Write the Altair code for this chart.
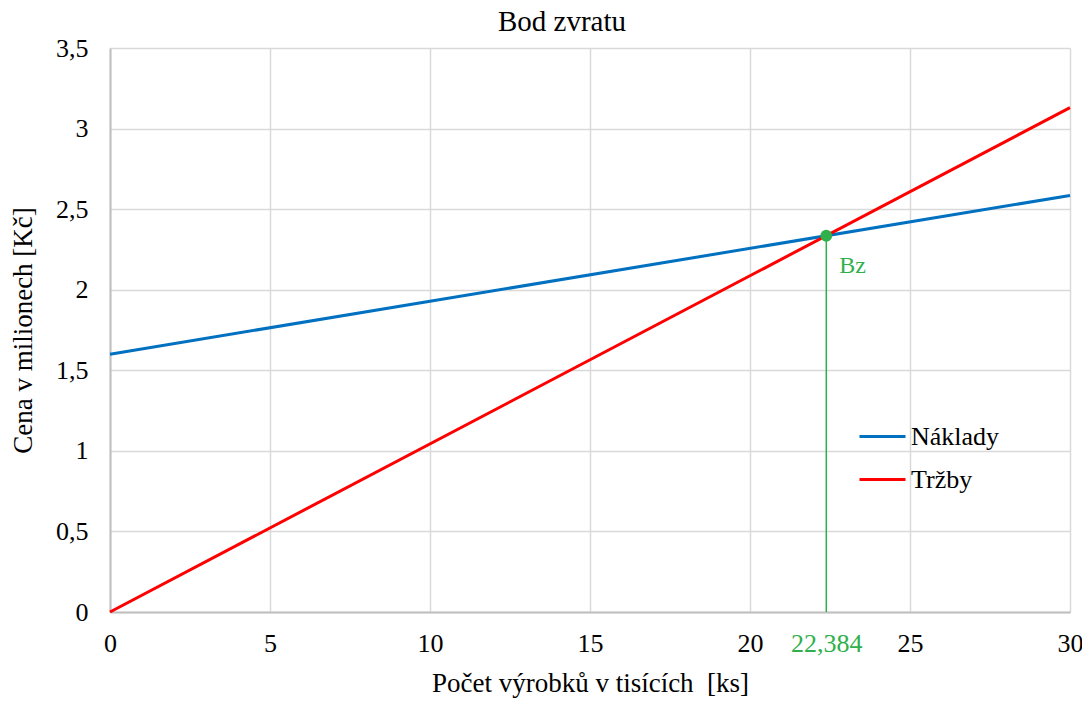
import altair as alt
import pandas as pd

# Data
x_vals = [0, 30]
naklady = [1.6, 2.585]
trzby = [0.0, 3.13]
series_names = ["Náklady", "Tržby"]
series_colors = ["#0070c0", "#ff0000"]

bz_x = [22.384]
bz_y = [2.335]
bz_label = ["Bz"]

x_ticks = [0, 5, 10, 15, 20, 22.384, 25, 30]
y_ticks = [0, 0.5, 1, 1.5, 2, 2.5, 3, 3.5]

FONT = "Liberation Serif"
GREEN = "#2fb04c"

rows = []
for i, xv in enumerate(x_vals):
    rows.append({"x": xv, "y": naklady[i], "serie": series_names[0]})
    rows.append({"x": xv, "y": trzby[i], "serie": series_names[1]})
lines_df = pd.DataFrame(rows)
bz_df = pd.DataFrame({"x": bz_x, "y": bz_y, "label": bz_label, "y0": [0.0]})

xscale = alt.Scale(domain=[0, 30], nice=False, zero=False)
yscale = alt.Scale(domain=[0, 3.5], nice=False)

xaxis = alt.Axis(
    values=x_ticks,
    title="Počet výrobků v tisících\u00a0\u00a0[ks]",
    labelExpr="replace(toString(datum.value), '.', ',')",
    labelColor={"condition": {"test": "datum.value == 22.384", "value": GREEN}, "value": "#000000"},
    gridOpacity={"condition": {"test": "datum.value == 22.384", "value": 0}, "value": 1},
    labelOverlap=False,
    labelFlush=False,
)
yaxis = alt.Axis(
    values=y_ticks,
    title="Cena v milionech [Kč]",
    labelExpr="replace(toString(datum.value), '.', ',')",
)

lines = alt.Chart(lines_df).mark_line(strokeWidth=3).encode(
    x=alt.X("x:Q", scale=xscale, axis=xaxis),
    y=alt.Y("y:Q", scale=yscale, axis=yaxis),
    color=alt.Color(
        "serie:N",
        scale=alt.Scale(domain=series_names, range=series_colors),
        legend=alt.Legend(
            title=None,
            orient="none",
            legendX=748,
            legendY=364,
            symbolType="stroke",
            symbolSize=2116,
            symbolStrokeWidth=3,
            labelFont=FONT,
            labelFontSize=26,
            labelColor="#000000",
            labelOffset=4,
            rowPadding=5,
        ),
    ),
)

vline = alt.Chart(bz_df).mark_rule(color=GREEN, strokeWidth=1.5).encode(
    x="x:Q", y="y:Q", y2="y0:Q"
)
point = alt.Chart(bz_df).mark_circle(color=GREEN, size=140, opacity=1).encode(
    x="x:Q", y="y:Q"
)
label = alt.Chart(bz_df).mark_text(
    color=GREEN, font=FONT, fontSize=24, align="left", baseline="middle", dx=13, dy=30
).encode(x="x:Q", y="y:Q", text="label:N")

chart = alt.layer(lines, vline, point, label).properties(
    width=960,
    height=564,
    title=alt.Title("Bod zvratu", font=FONT, fontSize=29, fontWeight="normal", color="#000000", dx=-28, offset=-2),
    padding={"left": 102, "top": 40, "right": 12, "bottom": 86},
    autosize=alt.AutoSizeParams(type="none"),
).configure_view(stroke=None).configure_axis(
    labelFont=FONT,
    labelFontSize=26,
    labelColor="#000000",
    titleFont=FONT,
    titleFontSize=27,
    titleFontWeight="normal",
    titleColor="#000000",
    gridColor="#d9d9d9",
    gridWidth=1.5,
    domainColor="#bfbfbf",
    domainWidth=2,
    ticks=False,
).configure_axisX(labelPadding=18, titlePadding=14).configure_axisY(labelPadding=22, titlePadding=18)

chart.save("out.html", embed_options={"renderer": "svg", "actions": False})
